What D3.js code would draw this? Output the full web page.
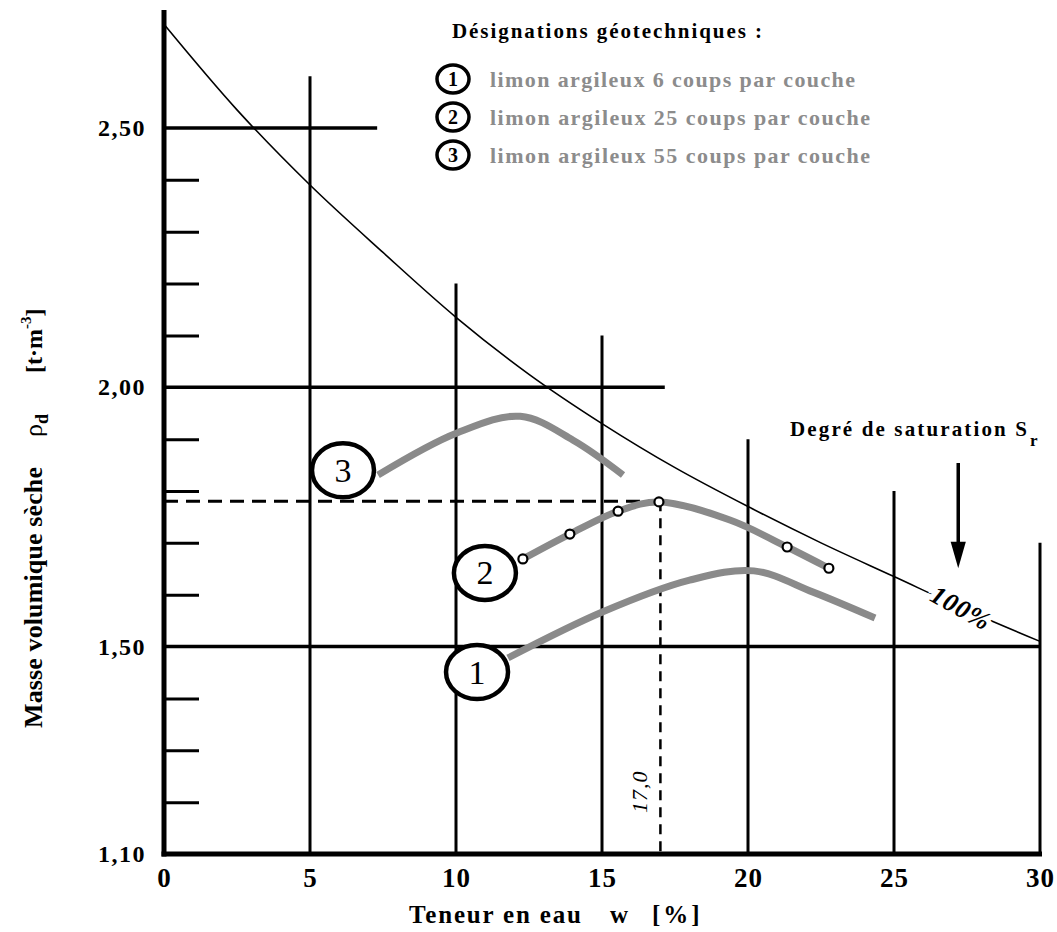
<!DOCTYPE html>
<html>
<head>
<meta charset="utf-8">
<script src="https://cdn.jsdelivr.net/npm/d3@7"></script>
<style>
body { margin: 0; background: #fff; }
svg { display: block; font-family: "Liberation Serif", "Times New Roman", serif; }
</style>
</head>
<body>
<svg id="ch" width="1057" height="932"></svg>
<script>
// axes
var xTicks = [0, 5, 10, 15, 20, 25, 30];
var yLabels = [1.10, 1.50, 2.00, 2.50];
var yMinor = [1.20, 1.30, 1.40, 1.60, 1.70, 1.80, 1.90, 2.10, 2.20, 2.30, 2.40];
var gridTop = [2.60, 2.20, 2.10, 1.90, 1.80, 1.70];      // haut des verticales w = 5..30
var majorRho = [1.50, 2.00, 2.50];
var majorEnd = [30, 17.15, 7.3];

// courbe de saturation Sr = 100 %
var satW   = [0, 2.5, 5, 7.5, 10, 12.5, 15, 17.5, 20, 22.5, 25, 27.5, 30];
var satRho = [2.70, 2.535, 2.39, 2.26, 2.135, 2.025, 1.93, 1.845, 1.77, 1.70, 1.635, 1.57, 1.51];

// courbe 1 : 6 coups par couche
var c1W   = [11.78, 15.03, 18.0, 20.2, 22.23, 24.35];
var c1Rho = [1.478, 1.567, 1.628, 1.646, 1.605, 1.555];

// courbe 2 : 25 coups par couche (points mesures + trace)
var p2W   = [12.29, 13.90, 15.55, 16.95, 21.34, 22.77];
var p2Rho = [1.669, 1.717, 1.761, 1.779, 1.692, 1.651];
var c2W   = [12.29, 13.90, 15.55, 16.95, 19.38, 21.34, 22.77];
var c2Rho = [1.669, 1.717, 1.761, 1.779, 1.744, 1.692, 1.651];

// courbe 3 : 55 coups par couche
var c3W   = [7.33, 10.03, 12.2, 14.01, 15.72];
var c3Rho = [1.831, 1.912, 1.944, 1.898, 1.831];

var wOpt = 17.0, rhoOpt = 1.78;
var curveLabels = ["1", "2", "3"];
var labelW   = [10.72, 10.99, 6.13];
var labelRho = [1.451, 1.642, 1.840];
var legendTxt = ["limon argileux 6 coups par couche",
                 "limon argileux 25 coups par couche",
                 "limon argileux 55 coups par couche"];

var svg = d3.select("#ch");
var x = d3.scaleLinear().domain([0, 30]).range([164, 1040]);
var y = d3.scaleLinear().domain([1.10, 2.50]).range([854, 128]);
var yTop = y.invert(10);
var gray = "#8a8a8a";
var zip = function (a, b) { return a.map(function (d, i) { return [d, b[i]]; }); };
var line = d3.line()
    .x(function (d) { return x(d[0]); })
    .y(function (d) { return y(d[1]); })
    .curve(d3.curveCatmullRom);
var smooth = d3.line()
    .x(function (d) { return x(d[0]); })
    .y(function (d) { return y(d[1]); })
    .curve(d3.curveCatmullRom.alpha(0.5));

// verticales
svg.selectAll(".vg").data(xTicks.slice(1)).enter().append("line")
    .attr("x1", function (d) { return x(d); })
    .attr("x2", function (d) { return x(d); })
    .attr("y1", function (d, i) { return y(gridTop[i]); })
    .attr("y2", y(1.10))
    .attr("stroke", "#000").attr("stroke-width", 3);

// horizontales principales
svg.selectAll(".hg").data(majorRho).enter().append("line")
    .attr("x1", x(0))
    .attr("x2", function (d, i) { return x(majorEnd[i]); })
    .attr("y1", function (d) { return y(d); })
    .attr("y2", function (d) { return y(d); })
    .attr("stroke", "#000").attr("stroke-width", 3.5);

// petites graduations
svg.append("g").attr("transform", "translate(" + x(0) + ",0)")
    .call(d3.axisRight(y).tickValues(yMinor).tickSize(35).tickFormat(""))
    .call(function (g) { g.select(".domain").remove(); })
    .selectAll("line").attr("stroke", "#000").attr("stroke-width", 3);

// axes
svg.append("line").attr("x1", x(0)).attr("x2", x(0))
    .attr("y1", y(yTop)).attr("y2", y(1.10) + 2.5)
    .attr("stroke", "#000").attr("stroke-width", 5);
svg.append("line").attr("x1", x(0) - 2.5).attr("x2", x(30) + 2)
    .attr("y1", y(1.10)).attr("y2", y(1.10))
    .attr("stroke", "#000").attr("stroke-width", 5);

var yAx = svg.append("g").attr("transform", "translate(" + x(0) + ",0)")
    .call(d3.axisLeft(y).tickValues(yLabels).tickSize(0).tickPadding(18)
        .tickFormat(function (d) { return d3.format(".2f")(d).replace(".", ","); }));
yAx.select(".domain").remove();
yAx.attr("font-family", null).attr("font-size", 24).attr("font-weight", "bold");
yAx.selectAll("text").attr("fill", "#000").attr("letter-spacing", 1.5);

var xAx = svg.append("g").attr("transform", "translate(0," + y(1.10) + ")")
    .call(d3.axisBottom(x).tickValues(xTicks).tickSize(0).tickPadding(14));
xAx.select(".domain").remove();
xAx.attr("font-family", null).attr("font-size", 27).attr("font-weight", "bold");
xAx.selectAll("text").attr("fill", "#000").attr("letter-spacing", 1);

// titres des axes
var xt = svg.append("g").attr("font-size", 25).attr("font-weight", "bold");
xt.append("text").attr("x", 409).attr("y", 923).attr("textLength", 172).text("Teneur en eau");
xt.append("text").attr("x", 610).attr("y", 923).text("w");
xt.append("text").attr("x", 652).attr("y", 923).attr("letter-spacing", 3).text("[%]");

var yt = svg.append("g").attr("transform", "translate(42,728) rotate(-90)")
    .attr("font-size", 26).attr("font-weight", "bold");
yt.append("text").attr("x", 0).attr("y", 0).attr("textLength", 261).text("Masse volumique sèche");
var rho = yt.append("text").attr("x", 291).attr("y", 0);
rho.append("tspan").attr("font-weight", "normal").text("ρ");
rho.append("tspan").attr("font-size", 18).attr("dy", 6).text("d");
var un = yt.append("text").attr("x", 355).attr("y", 0).attr("font-size", 24);
un.append("tspan").text("[t·m");
un.append("tspan").attr("font-size", 15).attr("dy", -11).text("-3");
un.append("tspan").attr("dy", 11).text("]");

// lignes pointillees de l'optimum
svg.append("line").attr("x1", x(0)).attr("x2", x(wOpt))
    .attr("y1", y(rhoOpt)).attr("y2", y(rhoOpt))
    .attr("stroke", "#000").attr("stroke-width", 3).attr("stroke-dasharray", "14,8");
svg.append("line").attr("x1", x(wOpt)).attr("x2", x(wOpt))
    .attr("y1", y(rhoOpt)).attr("y2", y(1.10))
    .attr("stroke", "#000").attr("stroke-width", 2.5).attr("stroke-dasharray", "10,7");
svg.append("text")
    .attr("transform", "translate(" + (x(wOpt) - 13) + "," + (y(1.10) - 41) + ") rotate(-90)")
    .attr("font-size", 22).attr("font-style", "italic").attr("letter-spacing", 1)
    .text("17,0");

// courbe de saturation
svg.append("path").attr("d", line(zip(satW, satRho)))
    .attr("fill", "none").attr("stroke", "#000").attr("stroke-width", 1.6);
svg.append("text")
    .attr("transform", "translate(" + x(27.3) + "," + y(1.575) + ") rotate(29)")
    .attr("text-anchor", "middle").attr("dy", "0.35em")
    .attr("font-size", 26).attr("font-style", "italic").attr("font-weight", "bold")
    .attr("letter-spacing", 1)
    .attr("stroke", "#fff").attr("stroke-width", 10).attr("paint-order", "stroke")
    .text("100%");

// courbes Proctor
[zip(c1W, c1Rho), zip(c2W, c2Rho), zip(c3W, c3Rho)].forEach(function (pts) {
    svg.append("path").attr("d", smooth(pts))
        .attr("fill", "none").attr("stroke", gray).attr("stroke-width", 7);
});
svg.selectAll(".pt").data(zip(p2W, p2Rho)).enter().append("circle")
    .attr("cx", function (d) { return x(d[0]); })
    .attr("cy", function (d) { return y(d[1]); })
    .attr("r", 4.5).attr("fill", "#fff").attr("stroke", "#000").attr("stroke-width", 2.2);

// etiquettes des courbes
var lab = svg.selectAll(".lab").data(curveLabels).enter().append("g")
    .attr("transform", function (d, i) { return "translate(" + x(labelW[i]) + "," + y(labelRho[i]) + ")"; });
lab.append("ellipse").attr("rx", 31).attr("ry", 27)
    .attr("fill", "#fff").attr("stroke", "#000").attr("stroke-width", 4.5);
lab.append("text").attr("text-anchor", "middle").attr("dy", "0.34em")
    .attr("font-size", 34).text(function (d) { return d; });

// saturation
var sr = svg.append("text").attr("x", 790).attr("y", 436)
    .attr("font-size", 21).attr("font-weight", "bold");
sr.append("tspan").attr("textLength", 237).text("Degré de saturation S");
svg.append("text").attr("x", 1030).attr("y", 446).attr("font-size", 17)
    .attr("font-weight", "bold").text("r");
var aw = 27.2;
svg.append("line").attr("x1", x(aw)).attr("x2", x(aw))
    .attr("y1", y(1.854)).attr("y2", y(1.70))
    .attr("stroke", "#000").attr("stroke-width", 3.5);
svg.append("path")
    .attr("d", "M" + x(aw - 0.26) + "," + y(1.702) + "L" + x(aw + 0.26) + "," + y(1.702) +
               "L" + x(aw) + "," + y(1.651) + "Z")
    .attr("fill", "#000");

// legende
svg.append("text").attr("x", 452).attr("y", 38)
    .attr("font-size", 21).attr("font-weight", "bold").attr("textLength", 310)
    .text("Désignations géotechniques :");
var leg = svg.selectAll(".leg").data(legendTxt).enter().append("g")
    .attr("transform", function (d, i) { return "translate(0," + (i * 38) + ")"; });
leg.append("ellipse").attr("cx", 453).attr("cy", 79).attr("rx", 16).attr("ry", 14)
    .attr("fill", "#fff").attr("stroke", "#000").attr("stroke-width", 3.5);
leg.append("text").attr("x", 453).attr("y", 79).attr("dy", "0.35em")
    .attr("text-anchor", "middle").attr("font-size", 20).attr("font-weight", "bold")
    .text(function (d, i) { return curveLabels[i]; });
leg.append("text").attr("x", 490).attr("y", 87)
    .attr("font-size", 22).attr("font-weight", "bold").attr("fill", "#8c8c8c")
    .attr("textLength", function (d, i) { return i === 0 ? 365 : 380; })
    .text(function (d) { return d; });
</script>
</body>
</html>
